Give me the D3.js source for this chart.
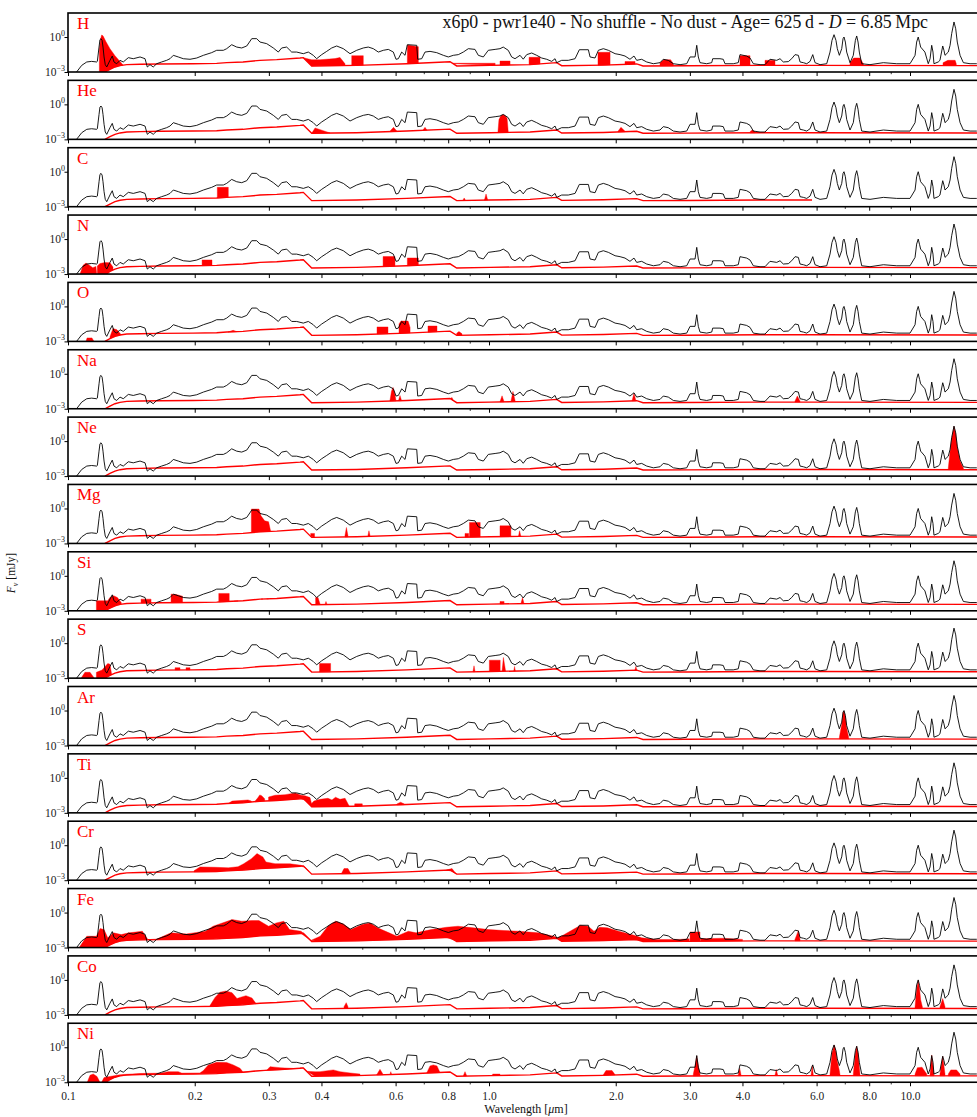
<!DOCTYPE html>
<html>
<head>
<meta charset="utf-8">
<script src="https://cdn.jsdelivr.net/npm/d3@7"></script>
<style>
body { margin: 0; background: #fff; }
svg { font-family: "Liberation Serif", "DejaVu Serif", serif; }
</style>
</head>
<body>
<svg id="chart" width="977" height="1117"></svg>
<script>
// panels, top to bottom
var elements = ['H','He','C','N','O','Na','Ne','Mg','Si','S','Ar','Ti','Cr','Fe','Co','Ni'];
var xTicks = [0.1,0.2,0.3,0.4,0.6,0.8,1.0,2.0,3.0,4.0,6.0,8.0,10.0];
var xMinorTicks = [0.5,0.7,0.9,5.0,7.0,9.0];
var yTicks = [1e-3, 1e0];
var yTickLabels = ['\u22123', '0'];

// total spectrum: [wavelength um, log10 F (mJy)]
var spectrum = [[0.1048,-3.0],[0.1078,-2.43],[0.1108,-2.14],[0.1138,-2.09],[0.1170,-2.14],[0.1174,-2.09],[0.1185,-0.86],[0.1191,-0.23],[0.1198,-0.14],[0.1205,-0.29],[0.1211,-0.86],[0.1218,-1.71],[0.1226,-2.37],[0.1236,-2.57],[0.1258,-2.0],[0.1274,-1.63],[0.1286,-2.14],[0.1305,-2.29],[0.1329,-2.0],[0.1353,-2.14],[0.1391,-1.77],[0.1429,-1.86],[0.1483,-1.71],[0.1524,-1.86],[0.1543,-2.57],[0.1566,-2.37],[0.1594,-2.57],[0.1624,-2.29],[0.1669,-2.14],[0.1715,-2.0],[0.1747,-1.86],[0.1779,-1.57],[0.1828,-1.71],[0.1879,-1.86],[0.1949,-1.91],[0.2022,-1.8],[0.2097,-1.57],[0.2194,-1.34],[0.2255,-1.14],[0.2339,-1.14],[0.2382,-1.0],[0.2448,-0.66],[0.2516,-0.86],[0.2586,-0.94],[0.2658,-0.77],[0.2732,-0.14],[0.2807,-0.14],[0.2858,-0.43],[0.2965,-0.57],[0.3074,-0.94],[0.3159,-1.29],[0.3218,-0.94],[0.3307,-0.86],[0.3399,-1.29],[0.3493,-1.29],[0.3622,-1.43],[0.3722,-1.29],[0.3825,-1.57],[0.3896,-1.86],[0.4005,-1.51],[0.4116,-1.23],[0.4230,-0.94],[0.4347,-0.77],[0.4508,-1.0],[0.4676,-1.43],[0.4850,-1.14],[0.5028,-0.94],[0.5167,-0.86],[0.5311,-1.0],[0.5459,-1.29],[0.5610,-1.14],[0.5766,-1.06],[0.5926,-1.29],[0.6014,-1.91],[0.6091,-1.86],[0.6204,-1.29],[0.6318,-1.57],[0.6398,-0.66],[0.6735,-0.71],[0.6771,-1.91],[0.6921,-1.86],[0.7047,-1.29],[0.7243,-1.23],[0.7513,-1.34],[0.7790,-1.57],[0.8005,-1.71],[0.8227,-1.57],[0.8455,-1.51],[0.8690,-1.29],[0.8931,-1.0],[0.9262,-1.06],[0.9432,-1.57],[0.9694,-1.71],[0.9962,-1.14],[1.034,-1.06],[1.062,-1.0],[1.081,-0.86],[1.111,-1.14],[1.132,-1.71],[1.153,-1.86],[1.185,-1.57],[1.206,-1.9],[1.229,-1.51],[1.263,-1.37],[1.298,-1.57],[1.334,-1.8],[1.371,-1.91],[1.409,-2.09],[1.435,-1.86],[1.448,-2.2],[1.488,-2.0],[1.543,-2.0],[1.601,-1.86],[1.639,-1.09],[1.722,-1.09],[1.738,-1.71],[1.786,-1.8],[1.819,-1.14],[1.869,-1.0],[1.921,-1.14],[1.993,-1.43],[2.048,-1.51],[2.104,-1.63],[2.162,-1.91],[2.210,-1.63],[2.243,-2.0],[2.305,-1.91],[2.369,-2.14],[2.457,-2.29],[2.548,-2.2],[2.594,-1.91],[2.666,-2.0],[2.741,-2.29],[2.843,-2.37],[2.949,-2.29],[3.003,-1.71],[3.086,-1.71],[3.115,-0.71],[3.142,-1.71],[3.171,-2.2],[3.289,-2.29],[3.381,-2.2],[3.399,-1.86],[3.537,-1.86],[3.601,-1.91],[3.635,-2.29],[3.804,-2.29],[3.909,-2.2],[3.946,-1.51],[4.093,-1.63],[4.169,-1.8],[4.245,-2.29],[4.403,-2.37],[4.525,-2.37],[4.650,-1.91],[4.824,-2.0],[4.912,-1.86],[5.001,-2.14],[5.140,-2.11],[5.236,-1.86],[5.333,-1.51],[5.430,-1.57],[5.481,-2.14],[5.581,-2.2],[5.685,-2.29],[5.789,-2.09],[5.875,-1.51],[5.949,-2.2],[6.114,-2.37],[6.341,-2.29],[6.457,-1.29],[6.527,-0.29],[6.600,0.2],[6.671,-0.29],[6.720,-1.0],[6.795,-1.57],[6.884,-1.0],[6.934,-0.14],[6.970,0.0],[7.022,-0.43],[7.073,-1.29],[7.203,-2.2],[7.334,-1.57],[7.417,-0.29],[7.472,0.09],[7.527,-0.43],[7.579,-1.29],[7.679,-2.29],[8.035,-2.37],[8.645,-2.2],[9.299,-2.29],[10.00,-2.29],[10.28,-1.57],[10.37,-0.43],[10.46,0.0],[10.54,-0.49],[10.60,-0.86],[10.85,-1.29],[11.05,-2.29],[11.16,-1.86],[11.26,-0.71],[11.34,-1.29],[11.40,-2.29],[11.67,-2.14],[11.78,-2.0],[11.96,-0.77],[12.04,-1.14],[12.11,-1.57],[12.33,-1.29],[12.45,-0.71],[12.56,0.29],[12.72,1.29],[12.84,0.71],[12.95,-0.43],[13.15,-1.57],[13.39,-2.2],[13.89,-2.29],[14.41,-2.29]];

// red baseline, same in every panel
var continuum = [[0.1224,-3.0],[0.1258,-2.77],[0.1293,-2.57],[0.1329,-2.45],[0.1379,-2.37],[0.1483,-2.34],[0.1654,-2.31],[0.1981,-2.29],[0.2255,-2.26],[0.2382,-2.2],[0.2604,-2.14],[0.2858,-2.0],[0.3132,-1.94],[0.3557,-1.8],[0.3622,-1.77],[0.3792,-2.48],[0.4850,-2.43],[0.6377,-2.29],[0.8080,-2.12],[0.8381,-2.48],[1.0055,-2.43],[1.252,-2.37],[1.448,-2.2],[1.488,-2.46],[1.869,-2.41],[2.243,-2.31],[2.322,-2.48],[2.949,-2.47],[4.403,-2.43],[5.852,-2.43],[14.43,-2.45]];
// the C baseline stops here
var continuumEnd = {C: 5.86};

// element contributions, each a list of segments of [wavelength, log10 F top]
var fillH = [
  [[0.1187,-1.1],[0.1195,-0.2],[0.1202,0.17],[0.1211,0.1],[0.1231,-0.4],[0.1258,-1.0],[0.1293,-1.6],[0.1329,-2.1],[0.1351,-2.4]],
  [[0.3622,-1.77],[0.3792,-1.95],[0.3969,-1.95],[0.4308,-1.85],[0.4427,-1.75],[0.4550,-2.3]],
  [[0.4720,-1.6],[0.5028,-1.6]],
  [[0.6398,-0.69],[0.6794,-0.83]],
  [[0.8214,-2.25],[1.034,-2.25]],
  [[1.062,-2.06],[1.122,-2.06]],
  [[1.245,-1.74],[1.322,-1.74]],
  [[1.815,-1.31],[1.939,-1.31]],
  [[2.104,-2.1],[2.223,-2.1]],
  [[2.548,-2.2],[2.6,-1.95],[2.7,-1.95],[2.741,-2.3]],
  [[3.946,-1.6],[4.169,-1.6]],
  [[4.525,-2.0],[4.779,-2.0]],
  [[7.203,-2.2],[7.35,-1.8],[7.6,-1.8],[7.75,-2.3]],
  [[11.98,-2.2],[12.3,-2.0],[12.8,-2.0],[12.88,-2.3]]
];
var fillHe = [
  [[0.3792,-2.5],[0.3862,-2.02],[0.4192,-2.45]],
  [[0.5818,-2.3],[0.5932,-1.97],[0.6044,-2.3]],
  [[0.6966,-2.3],[0.7047,-1.97],[0.7121,-2.3]],
  [[1.050,-2.4],[1.056,-1.3],[1.068,-0.95],[1.080,-0.88],[1.092,-0.95],[1.104,-1.2],[1.111,-2.35]],
  [[2.025,-2.3],[2.058,-1.97],[2.104,-2.3]],
  [[4.169,-2.35],[4.22,-2.2],[4.284,-2.35]]
];
var fillC = [
  [[0.2263,-1.34],[0.2403,-1.34]],
  [[0.867,-2.45],[0.873,-2.25],[0.879,-2.45]],
  [[0.975,-2.45],[0.984,-1.91],[0.993,-2.45]]
];
var fillN = [
  [[0.1068,-3],[0.1086,-2.25],[0.1103,-2.06],[0.1120,-2.2],[0.1145,-2.45],[0.1165,-2.35],[0.1170,-3]],
  [[0.1174,-2.3],[0.1191,-2.1],[0.1224,-2.0],[0.1258,-2.03],[0.1279,-2.4]],
  [[0.2082,-1.79],[0.2198,-1.79]],
  [[0.5603,-1.5],[0.5979,-1.5]],
  [[0.6398,-1.62],[0.6794,-1.62]]
];
var fillO = [
  [[0.1103,-3],[0.1110,-2.7],[0.1140,-2.7],[0.1153,-3]],
  [[0.1258,-2.6],[0.1279,-1.9],[0.1307,-2.0],[0.1336,-2.4]],
  [[0.2399,-2.2],[0.2467,-2.05],[0.2520,-2.2]],
  [[0.5420,-1.76],[0.5755,-1.76]],
  [[0.6113,-1.5],[0.618,-1.26],[0.6423,-1.26],[0.6494,-1.8]],
  [[0.7163,-1.68],[0.7524,-1.68]],
  [[0.8381,-2.3],[0.8486,-2.15],[0.8628,-2.35]]
];
var fillNa = [
  [[0.5815,-2.35],[0.5866,-1.5],[0.5916,-1.17],[0.5965,-1.6],[0.6014,-2.3]],
  [[0.6095,-2.3],[0.6146,-1.86],[0.6198,-2.3]],
  [[0.8097,-2.3],[0.8168,-2.03],[0.8227,-2.4]],
  [[1.062,-2.4],[1.074,-1.89],[1.086,-2.4]],
  [[1.127,-2.4],[1.140,-1.51],[1.155,-2.4]],
  [[2.187,-2.35],[2.210,-1.66],[2.233,-2.35]],
  [[5.33,-2.35],[5.40,-1.9],[5.48,-2.35]]
];
var fillNe = [
  [[12.33,-2.3],[12.45,-0.9],[12.56,0.2],[12.72,1.25],[12.84,0.65],[12.95,-0.5],[13.15,-1.7],[13.39,-2.3]]
];
var fillMg = [
  [[0.2726,-0.05],[0.2842,-0.05],[0.2873,-0.63],[0.2932,-1.06],[0.2995,-1.14],[0.3027,-1.9]],
  [[0.3771,-2.14],[0.3851,-2.14]],
  [[0.4550,-2.3],[0.4585,-1.63],[0.4621,-2.3]],
  [[0.5159,-2.3],[0.5186,-1.91],[0.5215,-2.3]],
  [[0.8770,-2.14],[0.8949,-2.14]],
  [[0.8988,-1.2],[0.9531,-1.2]],
  [[1.062,-1.49],[1.127,-1.49]],
  [[1.175,-2.4],[1.182,-1.91],[1.190,-2.4]]
];
var fillSi = [
  [[0.1168,-2.14],[0.1243,-2.14],[0.1258,-1.85],[0.1283,-1.7],[0.1310,-1.86],[0.1338,-2.29]],
  [[0.1491,-2.0],[0.1575,-2.0]],
  [[0.1757,-1.57],[0.1805,-1.6],[0.1871,-1.75]],
  [[0.2281,-1.51],[0.2415,-1.51]],
  [[0.2481,-2.2],[0.2534,-2.2]],
  [[0.2873,-2.1],[0.2905,-2.1]],
  [[0.2965,-2.0],[0.2995,-2.0]],
  [[0.3874,-1.86],[0.3925,-1.86],[0.3972,-2.45]],
  [[0.4078,-2.45],[0.4100,-2.2],[0.4123,-2.45]],
  [[1.062,-2.2],[1.086,-2.2]],
  [[1.191,-2.4],[1.201,-1.86],[1.211,-2.4]]
];
var fillS = [
  [[0.1074,-3],[0.1097,-2.5],[0.1128,-2.5],[0.1155,-3]],
  [[0.1168,-2.5],[0.1205,-2.3],[0.1243,-1.74],[0.1258,-1.8],[0.1270,-2.7]],
  [[0.1796,-2.1],[0.1845,-2.1]],
  [[0.1907,-2.1],[0.1949,-2.1]],
  [[0.3958,-1.74],[0.4205,-1.74]],
  [[0.9163,-2.4],[0.9213,-1.94],[0.9262,-2.4]],
  [[1.002,-1.46],[1.063,-1.46]],
  [[1.074,-2.4],[1.082,-1.23],[1.095,-2.4]],
  [[1.145,-2.4],[1.150,-2.0],[1.155,-2.4]],
  [[2.22,-2.35],[2.233,-2.0],[2.245,-2.35]]
];
var fillAr = [
  [[6.795,-2.3],[6.884,-1.2],[6.934,-0.2],[6.970,-0.04],[7.022,-0.5],[7.073,-1.5],[7.15,-2.3]]
];
var fillTi = [
  [[0.2404,-2.24],[0.2453,-1.99],[0.2562,-1.95],[0.2676,-1.89],[0.2727,-1.99]],
  [[0.2784,-1.99],[0.2827,-1.69],[0.2854,-1.46],[0.2885,-1.54],[0.2932,-1.79]],
  [[0.2995,-1.64],[0.3103,-1.49],[0.3277,-1.44],[0.3468,-1.29],[0.3575,-1.49],[0.3655,-1.54],[0.3757,-1.69],[0.3788,-2.19],[0.3840,-1.99],[0.3969,-1.84],[0.4144,-1.75],[0.4237,-1.89],[0.4319,-1.66],[0.4427,-1.84],[0.4551,-1.75],[0.4650,-2.39]],
  [[0.4797,-2.23],[0.5001,-2.23]],
  [[0.6039,-2.24],[0.6166,-2.09],[0.6296,-2.24]]
];
var fillCr = [
  [[0.1992,-2.19],[0.2058,-1.86],[0.2235,-1.89],[0.2404,-1.94],[0.2534,-1.84],[0.2614,-1.59],[0.2727,-1.15],[0.2812,-0.72],[0.2903,-1.0],[0.2953,-1.44],[0.3103,-1.58],[0.3367,-1.59],[0.3575,-1.72],[0.3655,-1.86],[0.3736,-2.49]],
  [[0.4459,-2.44],[0.4525,-2.0],[0.4624,-2.0],[0.4696,-2.44]],
  [[0.7925,-2.19],[0.8168,-2.0],[0.8347,-2.54]]
];
var fillFe = [
  [[0.1063,-3],[0.1108,-2.03],[0.1168,-2.03],[0.1192,-1.37],[0.1218,-1.46],[0.1243,-2.17],[0.1283,-1.74],[0.1338,-1.89],[0.1395,-1.74],[0.1502,-1.6],[0.1549,-2.6],[0.1616,-2.46],[0.1757,-1.74],[0.1910,-1.83],[0.2121,-1.6],[0.2211,-1.17],[0.2455,-0.6],[0.2588,-0.74],[0.2726,-0.69],[0.2842,-0.69],[0.2995,-1.17],[0.3123,-0.89],[0.3256,-0.74],[0.3360,-1.46],[0.3578,-1.6],[0.3771,-2.46],[0.3972,-2.03],[0.4144,-1.17],[0.4319,-0.74],[0.4505,-0.97],[0.4699,-1.46],[0.5001,-1.03],[0.5215,-0.89],[0.5437,-1.31],[0.5790,-1.74],[0.6039,-2.03],[0.6433,-1.6],[0.6710,-1.74],[0.7291,-1.46],[0.7925,-1.26],[0.8441,-1.17],[0.9178,-1.31],[0.9978,-1.46],[1.085,-1.54],[1.180,-1.6],[1.310,-1.74],[1.424,-2.03],[1.454,-2.17],[1.485,-2.03],[1.650,-1.09],[1.720,-1.17],[1.776,-1.6],[1.831,-1.26],[1.910,-1.31],[2.033,-1.6],[2.210,-1.94],[2.305,-2.17],[2.506,-2.31],[2.843,-2.3],[2.99,-2.25]],
  [[3.003,-1.66],[3.171,-1.66]],
  [[3.18,-2.25],[3.6,-2.2],[4.0,-2.3]],
  [[5.33,-2.3],[5.43,-1.55],[5.48,-2.3]]
];
var fillCo = [
  [[0.2174,-2.2],[0.2235,-1.5],[0.2296,-1.05],[0.2373,-0.95],[0.2453,-1.1],[0.2520,-1.6],[0.2562,-1.5],[0.2647,-1.35],[0.2735,-1.55],[0.2797,-2.1]],
  [[0.4525,-2.3],[0.458,-1.95],[0.4624,-2.3]],
  [[10.28,-2.3],[10.37,-0.8],[10.46,-0.05],[10.54,-0.8],[10.60,-1.7],[10.7,-2.3]],
  [[11.78,-2.3],[11.96,-1.6],[12.11,-2.3]]
];
var fillNi = [
  [[0.1111,-3],[0.1128,-2.4],[0.1148,-2.29],[0.1172,-2.5],[0.1191,-3]],
  [[0.1202,-3],[0.1218,-2.6],[0.1258,-2.5],[0.1286,-2.45],[0.1329,-2.35],[0.1483,-2.25],[0.1654,-2.22],[0.1731,-2.09],[0.1828,-2.09],[0.1865,-2.22],[0.2058,-2.2],[0.2097,-2.0],[0.2154,-1.51],[0.2255,-1.29],[0.2382,-1.31],[0.2470,-1.51],[0.2562,-1.8],[0.2608,-2.17],[0.2706,-2.15],[0.2965,-2.0],[0.3019,-1.66],[0.3188,-1.75],[0.3367,-1.8],[0.3480,-1.9],[0.3617,-1.8],[0.3690,-2.09],[0.3862,-2.1],[0.3969,-2.09],[0.4268,-1.94],[0.4427,-2.09],[0.4676,-2.2],[0.4938,-2.3]],
  [[0.5411,-2.35],[0.5509,-1.89],[0.5610,-2.35]],
  [[0.5818,-2.35],[0.5844,-2.09],[0.5873,-2.35]],
  [[0.7113,-2.2],[0.7243,-1.6],[0.7374,-1.51],[0.7524,-1.6],[0.7648,-2.2]],
  [[0.870,-2.4],[0.877,-2.09],[0.884,-2.4]],
  [[1.02,-2.3],[1.062,-2.3]],
  [[1.869,-2.35],[1.896,-2.0],[1.960,-2.0],[1.993,-2.35]],
  [[3.057,-2.3],[3.086,-1.6],[3.115,-0.74],[3.142,-1.6],[3.171,-2.3]],
  [[3.909,-2.35],[3.940,-1.8],[3.968,-2.35]],
  [[4.779,-2.4],[4.813,-1.9],[4.850,-2.4]],
  [[5.820,-2.4],[5.859,-1.57],[5.894,-2.4]],
  [[6.457,-2.3],[6.527,-0.5],[6.610,0.2],[6.671,-0.4],[6.720,-1.2],[6.795,-2.0],[6.822,-2.4]],
  [[7.334,-2.3],[7.417,-0.5],[7.472,0.09],[7.527,-0.5],[7.606,-2.3]],
  [[10.28,-2.3],[10.41,-1.75],[10.68,-1.71],[10.96,-2.3]],
  [[11.16,-2.3],[11.26,-0.66],[11.40,-2.3]],
  [[11.78,-2.3],[11.96,-0.77],[12.11,-2.3]],
  [[12.33,-2.3],[12.5,-1.94],[12.9,-1.94],[13.15,-2.3]]
];

var fills = {H: fillH, He: fillHe, C: fillC, N: fillN, O: fillO, Na: fillNa, Ne: fillNe, Mg: fillMg,
  Si: fillSi, S: fillS, Ar: fillAr, Ti: fillTi, Cr: fillCr, Fe: fillFe, Co: fillCo, Ni: fillNi};

var left = 68, top0 = 13, panelH = 59, pitch = 67.35;
var red = '#ff0000';

var svg = d3.select('#chart');

var x = d3.scaleLog().domain([0.1, 15]).range([left, left + 421 * Math.log10(150)]);
var y = d3.scaleLog().domain([1e-3, Math.pow(10, 2.06)]).range([panelH, 0]);
function ylog(v) { return y(Math.pow(10, v)); }

// baseline under the red fills (linear in log wavelength)
function baseAt(w) {
  if (w <= continuum[0][0]) return -3.3;
  for (var i = 1; i < continuum.length; i++) {
    if (w <= continuum[i][0]) {
      var a = continuum[i-1], b = continuum[i];
      var t = (Math.log(w) - Math.log(a[0])) / (Math.log(b[0]) - Math.log(a[0]));
      return a[1] + t * (b[1] - a[1]);
    }
  }
  return continuum[continuum.length-1][1];
}

var area = d3.area()
  .x(function(d) { return x(d[0]); })
  .y0(function(d) { return ylog(baseAt(d[0])); })
  .y1(function(d) { return ylog(Math.max(d[1], baseAt(d[0]))); });

var line = d3.line()
  .x(function(d) { return x(d[0]); })
  .y(function(d) { return ylog(d[1]); });

var defs = svg.append('defs');

elements.forEach(function(el, i) {
  var g = svg.append('g').attr('transform', 'translate(0,' + (top0 + i * pitch) + ')');

  defs.append('clipPath').attr('id', 'clip' + i)
    .append('rect').attr('x', left).attr('y', 0).attr('width', 977 - left + 20).attr('height', panelH);

  var plot = g.append('g').attr('clip-path', 'url(#clip' + i + ')');

  plot.selectAll('path.fill').data(fills[el]).enter().append('path')
    .attr('class', 'fill')
    .attr('d', area)
    .attr('fill', red)
    .attr('stroke', red)
    .attr('stroke-width', 0.4);

  var cont = continuum;
  if (continuumEnd[el]) {
    cont = continuum.filter(function(d) { return d[0] <= continuumEnd[el]; });
  }
  plot.append('path').datum(cont)
    .attr('d', line)
    .attr('fill', 'none')
    .attr('stroke', red)
    .attr('stroke-width', 1.4);

  plot.append('path').datum(spectrum)
    .attr('d', line)
    .attr('fill', 'none')
    .attr('stroke', '#000')
    .attr('stroke-width', 0.9)
    .attr('stroke-linejoin', 'round');

  // ticks
  var last = (i === elements.length - 1);
  var xAxis = g.append('g').attr('transform', 'translate(0,' + panelH + ')')
    .call(d3.axisBottom(x).tickValues(xTicks).tickSize(4).tickSizeOuter(0)
      .tickFormat(last ? d3.format('.1f') : function() { return ''; }));
  xAxis.select('.domain').remove();
  xAxis.selectAll('.tick line').attr('stroke-width', 1);
  xAxis.selectAll('.tick text')
    .attr('font-family', '"Liberation Serif", "DejaVu Serif", serif')
    .attr('font-size', 11.5).attr('fill', '#222').attr('dy', '0.95em');

  var xMinor = g.append('g').attr('transform', 'translate(0,' + panelH + ')')
    .call(d3.axisBottom(x).tickValues(xMinorTicks).tickSize(2.2).tickSizeOuter(0).tickFormat(''));
  xMinor.select('.domain').remove();
  xMinor.selectAll('.tick line').attr('stroke-width', 0.8);

  var yAxis = g.append('g').attr('transform', 'translate(' + left + ',0)')
    .call(d3.axisLeft(y).tickValues(yTicks).tickSize(3.5).tickSizeOuter(0).tickFormat(''));
  yAxis.select('.domain').remove();
  yAxis.selectAll('.tick line').attr('stroke-width', 1);

  yTicks.forEach(function(v, k) {
    var t = g.append('text')
      .attr('x', left - 3).attr('y', y(v) + 4)
      .attr('text-anchor', 'end')
      .attr('font-size', 11.5).attr('fill', '#222');
    t.append('tspan').text('10');
    t.append('tspan').attr('dy', -5).attr('font-size', 8).text(yTickLabels[k]);
  });

  // frame
  g.append('rect')
    .attr('x', left).attr('y', 0)
    .attr('width', 1000 - left).attr('height', panelH)
    .attr('fill', 'none').attr('stroke', '#000').attr('stroke-width', 1.6);

  g.append('text')
    .attr('x', left + 9).attr('y', 16)
    .attr('font-size', 17).attr('fill', red)
    .text(el);
});

// title inside the first panel
var title = svg.append('text')
  .attr('x', 928).attr('y', top0 + 14.5)
  .attr('text-anchor', 'end')
  .attr('font-size', 15).attr('fill', '#111');
title.append('tspan').text('x6p0 - pwr1e40 - No shuffle - No dust - Age= 625\u2009d - ');
title.append('tspan').attr('font-style', 'italic').text('D');
title.append('tspan').text(' = 6.85\u2009Mpc');
var tw = title.node().getComputedTextLength();
title.attr('font-size', 15 * 486 / tw);

// axis labels
var xl = svg.append('text')
  .attr('x', 526).attr('y', 1113)
  .attr('text-anchor', 'middle')
  .attr('font-size', 12).attr('fill', '#111');
xl.append('tspan').text('Wavelength [');
xl.append('tspan').attr('font-style', 'italic').text('\u03bc');
xl.append('tspan').text('m]');

var yl = svg.append('text')
  .attr('transform', 'translate(15,573) rotate(-90)')
  .attr('text-anchor', 'middle')
  .attr('font-size', 11.5).attr('fill', '#111');
yl.append('tspan').attr('font-style', 'italic').text('F');
yl.append('tspan').attr('font-style', 'italic').attr('font-size', 8).attr('dy', 3).text('\u03bd');
yl.append('tspan').attr('dy', -3).text(' [mJy]');
</script>
</body>
</html>
